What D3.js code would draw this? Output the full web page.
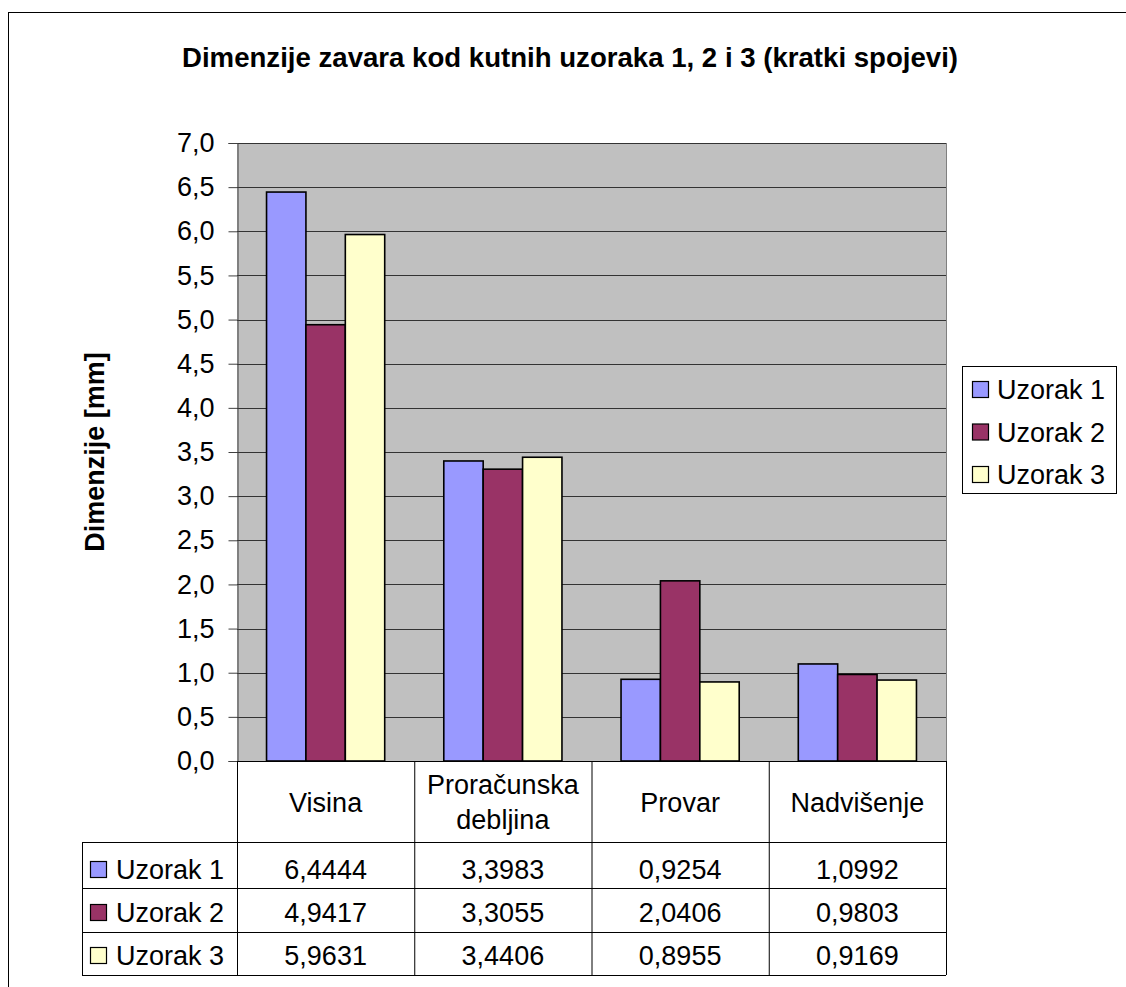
<!DOCTYPE html>
<html>
<head>
<meta charset="utf-8">
<script src="https://cdn.jsdelivr.net/npm/d3@7"></script>
<style>
  html, body { margin: 0; padding: 0; background: #fff; }
  svg { display: block; }
  text { font-family: "Liberation Sans", Arial, sans-serif; fill: #000; }
</style>
</head>
<body>
<svg id="chart" width="1126" height="987"></svg>
<script>
const title = "Dimenzije zavara kod kutnih uzoraka 1, 2 i 3 (kratki spojevi)";
const yAxisTitle = "Dimenzije [mm]";
const categories = ["Visina", "Proračunska debljina", "Provar", "Nadvišenje"];
const categoryLines = [["Visina"], ["Proračunska", "debljina"], ["Provar"], ["Nadvišenje"]];
const seriesNames = ["Uzorak 1", "Uzorak 2", "Uzorak 3"];
const uzorak1 = [6.4444, 3.3983, 0.9254, 1.0992];
const uzorak2 = [4.9417, 3.3055, 2.0406, 0.9803];
const uzorak3 = [5.9631, 3.4406, 0.8955, 0.9169];
const seriesColors = ["#9999FF", "#993366", "#FFFFCC"];
const yTickValues = [0, 0.5, 1, 1.5, 2, 2.5, 3, 3.5, 4, 4.5, 5, 5.5, 6, 6.5, 7];

const seriesValues = [uzorak1, uzorak2, uzorak3];
const fmt1 = v => d3.format(".1f")(v).replace(".", ",");
const fmt4 = v => d3.format(".4f")(v).replace(".", ",");

const svg = d3.select("#chart");
const FS = 27;

// outer chart border (extends past image edge)
svg.append("rect").attr("x", 8.5).attr("y", 12.5).attr("width", 1130).attr("height", 990)
  .attr("fill", "#fff").attr("stroke", "#000").attr("stroke-width", 1);

const plot = { left: 237, right: 946, top: 143, bottom: 761 };

const x = d3.scaleBand().domain(categories).range([plot.left, plot.right]).padding(0);
const x1 = d3.scaleBand().domain(seriesNames).range([0, x.bandwidth()])
  .paddingInner(0).paddingOuter(0.75);
const y = d3.scaleLinear().domain([0, 7]).range([plot.bottom, plot.top]);

// plot background
svg.append("rect").attr("x", plot.left).attr("y", plot.top)
  .attr("width", plot.right - plot.left).attr("height", plot.bottom - plot.top)
  .attr("fill", "#C0C0C0");

// gridlines
svg.append("g").selectAll("line").data(yTickValues.filter(v => v > 0)).join("line")
  .attr("x1", plot.left).attr("x2", plot.right)
  .attr("y1", d => Math.round(y(d)) + 0.5).attr("y2", d => Math.round(y(d)) + 0.5)
  .attr("stroke", "#333").attr("stroke-width", 1);

// right edge of plot
svg.append("line").attr("x1", plot.right + 0.5).attr("x2", plot.right + 0.5)
  .attr("y1", plot.top).attr("y2", plot.bottom).attr("stroke", "#808080").attr("stroke-width", 1);

// bars
const rows = categories.map((c, i) => ({ cat: c, vals: seriesValues.map((s, j) => ({ name: seriesNames[j], v: s[i], color: seriesColors[j] })) }));
const gCat = svg.append("g").selectAll("g").data(rows).join("g")
  .attr("transform", d => `translate(${x(d.cat)},0)`);
gCat.selectAll("rect").data(d => d.vals).join("rect")
  .attr("x", d => x1(d.name))
  .attr("width", x1.bandwidth())
  .attr("y", d => y(d.v))
  .attr("height", d => y(0) - y(d.v))
  .attr("fill", d => d.color)
  .attr("stroke", "#000").attr("stroke-width", 1.6);

// y axis
const yAxis = d3.axisLeft(y).tickValues(yTickValues).tickFormat(fmt1).tickSize(9).tickPadding(14);
const gy = svg.append("g").attr("transform", `translate(${plot.left + 0.5},0)`).call(yAxis);
gy.select(".domain").attr("stroke", "#404040");
gy.selectAll(".tick line").attr("stroke", "#404040");
gy.selectAll(".tick text").attr("font-size", FS).attr("font-family", "Liberation Sans, Arial, sans-serif").attr("fill", "#000");

// y axis title
svg.append("text").attr("transform", `translate(104,${(plot.top + plot.bottom) / 2}) rotate(-90)`)
  .attr("text-anchor", "middle").attr("font-size", FS).attr("font-weight", "bold").text(yAxisTitle);

// title
svg.append("text").attr("x", 570).attr("y", 67).attr("text-anchor", "middle")
  .attr("font-size", 27.6).attr("font-weight", "bold").text(title);

// data table
const tableLeft = 82;
const rowYs = [761, 842, 888, 932, 975];
const tg = svg.append("g");
const lineColor = "#000";
tg.append("line").attr("x1", plot.left).attr("x2", plot.right).attr("y1", rowYs[0] + 0.5).attr("y2", rowYs[0] + 0.5).attr("stroke", lineColor);
rowYs.slice(1).forEach(yy => {
  tg.append("line").attr("x1", tableLeft).attr("x2", plot.right).attr("y1", yy + 0.5).attr("y2", yy + 0.5).attr("stroke", lineColor);
});
tg.append("line").attr("x1", tableLeft + 0.5).attr("x2", tableLeft + 0.5).attr("y1", rowYs[1]).attr("y2", rowYs[4]).attr("stroke", lineColor);
categories.forEach(c => {
  tg.append("line").attr("x1", x(c) + 0.5).attr("x2", x(c) + 0.5).attr("y1", rowYs[0]).attr("y2", rowYs[4]).attr("stroke", lineColor);
});
tg.append("line").attr("x1", plot.right + 0.5).attr("x2", plot.right + 0.5).attr("y1", rowYs[0]).attr("y2", rowYs[4]).attr("stroke", lineColor);

// category header labels
categories.forEach((c, i) => {
  const lines = categoryLines[i];
  const cx = x(c) + x.bandwidth() / 2;
  const base = lines.length === 1 ? [812] : [794, 829];
  lines.forEach((ln, k) => {
    tg.append("text").attr("x", cx).attr("y", base[k]).attr("text-anchor", "middle")
      .attr("font-size", FS).text(ln);
  });
});

// series rows
const rowBase = [879, 922, 965];
seriesNames.forEach((s, j) => {
  tg.append("rect").attr("x", 90.5).attr("y", rowBase[j] - 17.5).attr("width", 16).attr("height", 16)
    .attr("fill", seriesColors[j]).attr("stroke", "#000").attr("stroke-width", 1.2);
  tg.append("text").attr("x", 116).attr("y", rowBase[j]).attr("font-size", FS).text(s);
  categories.forEach((c, i) => {
    tg.append("text").attr("x", x(c) + x.bandwidth() / 2).attr("y", rowBase[j])
      .attr("text-anchor", "middle").attr("font-size", FS).text(fmt4(seriesValues[j][i]));
  });
});

// legend
const lg = svg.append("g");
lg.append("rect").attr("x", 962.5).attr("y", 366.5).attr("width", 154).attr("height", 127)
  .attr("fill", "#fff").attr("stroke", "#000").attr("stroke-width", 1);
const legBase = [399, 441.5, 484];
seriesNames.forEach((s, j) => {
  lg.append("rect").attr("x", 972.5).attr("y", legBase[j] - 17.5).attr("width", 16).attr("height", 16)
    .attr("fill", seriesColors[j]).attr("stroke", "#000").attr("stroke-width", 1.2);
  lg.append("text").attr("x", 997).attr("y", legBase[j]).attr("font-size", FS).text(s);
});
</script>
</body>
</html>
